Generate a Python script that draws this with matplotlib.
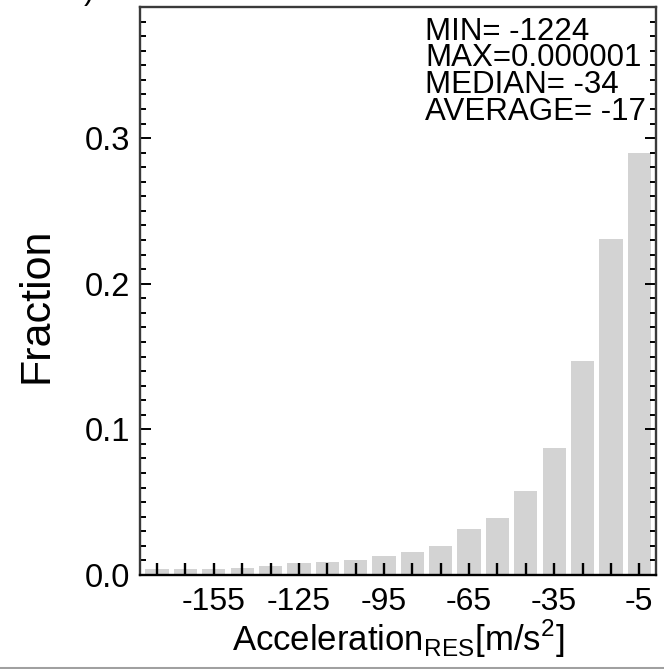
import matplotlib
matplotlib.use("Agg")
import matplotlib.pyplot as plt
from matplotlib.lines import Line2D
import numpy as np

plt.rcParams["font.family"] = ["Liberation Sans", "DejaVu Sans"]
plt.rcParams["mathtext.fontset"] = "custom"
plt.rcParams["mathtext.rm"] = "Liberation Sans"
plt.rcParams["axes.unicode_minus"] = False

# bin centres of the histogram (m/s^2) and fraction in each bin
bin_centers = [-175, -165, -155, -145, -135, -125, -115, -105, -95,
               -85, -75, -65, -55, -45, -35, -25, -15, -5]
fractions = [0.0038, 0.0038, 0.0038, 0.0051, 0.0064, 0.0085, 0.0087, 0.0100, 0.0132,
             0.0161, 0.0198, 0.0315, 0.0393, 0.0576, 0.0869, 0.1470, 0.2306, 0.2900]
xtick_values = [-155, -125, -95, -65, -35, -5]
xtick_labels = ["-155", "-125", "-95", "-65", "-35", "-5"]
ytick_values = [0.0, 0.1, 0.2, 0.3]
ytick_labels = ["0.0", "0.1", "0.2", "0.3"]
stats_text = "MIN= -1224\nMAX=0.000001\nMEDIAN= -34\nAVERAGE= -17"

W, H = 664, 669
fig = plt.figure(figsize=(W / 100, H / 100), dpi=100)
ax = fig.add_axes([139.5 / W, 1 - 575 / H, (656 - 139.5) / W, (575 - 7) / H])

ax.bar(bin_centers, fractions, width=8.2, color="#d3d3d3", zorder=1)

ax.set_xlim(-181.2, 0.9)
ax.set_ylim(0, 0.39)

ax.set_xticks(xtick_values)
ax.set_xticklabels(xtick_labels)
ax.set_xticks(bin_centers, minor=True)
ax.set_yticks(ytick_values)
ax.set_yticklabels(ytick_labels)
ax.set_yticks(np.arange(0, 0.39, 0.01), minor=True)

ax.tick_params(axis="x", which="both", direction="in", length=8.5, width=1.7,
               top=False, bottom=True, color="black", labelsize=23, pad=9)
ax.tick_params(axis="y", which="major", direction="in", length=8, width=1.4,
               left=True, right=True, color="black", labelsize=23.5, pad=7)
ax.tick_params(axis="y", which="minor", direction="in", length=4, width=1.4,
               left=True, right=True, color="black")

for side in ["left", "right", "top", "bottom"]:
    ax.spines[side].set_linewidth(1.7)
    ax.spines[side].set_color("#3a3a3a")
ax.spines["bottom"].set_color("black")

ax.set_xlabel(r"Acceleration$_{\mathrm{RES}}$[m/s$^{2}$]", fontsize=25, labelpad=0)
ax.set_ylabel("Fraction", fontsize=31)
ax.yaxis.set_label_coords(-0.16, 0.475)

ax.text(0.553, 0.983, stats_text, transform=ax.transAxes, ha="left", va="top",
        fontsize=22.5, linespacing=0.86)

# cut-off panel label at top-left and border line at the bottom
fig.text(84 / W, 1 + 1 / H, ")", ha="left", va="baseline", fontsize=22)
fig.add_artist(Line2D([0, 1], [1.5 / H, 1.5 / H], transform=fig.transFigure,
                      color="#a0a0a0", linewidth=2.2))

fig.savefig("out.png", dpi=100)
